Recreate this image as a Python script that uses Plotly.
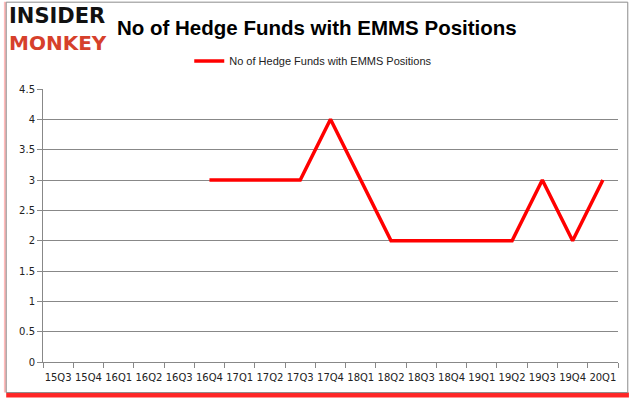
import plotly.graph_objs as go

# Quarter labels and hedge fund counts (None = no data yet)
quarters = ["15Q3", "15Q4", "16Q1", "16Q2", "16Q3", "16Q4", "17Q1", "17Q2", "17Q3", "17Q4",
            "18Q1", "18Q2", "18Q3", "18Q4", "19Q1", "19Q2", "19Q3", "19Q4", "20Q1"]
funds = [None, None, None, None, None, 3, 3, 3, 3, 4,
         3, 2, 2, 2, 2, 2, 3, 2, 3]
seriesName = "No of Hedge Funds with EMMS Positions"
yTicks = [0, 0.5, 1, 1.5, 2, 2.5, 3, 3.5, 4, 4.5]

tickFont = dict(family="DejaVu Sans", size=10, color="#222222")

trace = go.Scatter(
    x=quarters, y=funds, name=seriesName, mode="lines",
    line=dict(color="#ff0000", width=3.5),
    connectgaps=False,
)

layout = go.Layout(
    width=635, height=405,
    margin=dict(l=43, r=17, t=89, b=43),
    paper_bgcolor="white", plot_bgcolor="white",
    showlegend=True,
    legend=dict(
        orientation="h", x=0.47, xanchor="center", y=1.103, yanchor="middle",
        font=dict(family="Liberation Sans", size=11, color="#222222"),
        bgcolor="rgba(0,0,0,0)",
    ),
    xaxis=dict(
        type="category", range=[-0.5, len(quarters) - 0.5], showgrid=False,
        showline=True, linecolor="#888888", linewidth=1,
        ticks="outside", tickson="boundaries", ticklen=5, tickcolor="#888888",
        tickfont=tickFont, tickangle=0, ticklabelstandoff=6,
    ),
    yaxis=dict(
        range=[0, 4.5], tickvals=yTicks,
        showgrid=True, gridcolor="#888888", gridwidth=1,
        showline=True, linecolor="#888888", linewidth=1,
        ticks="outside", ticklen=5, tickcolor="#888888",
        tickfont=tickFont, zeroline=False,
    ),
    shapes=[
        # red shadow under the frame
        dict(type="rect", xref="paper", yref="paper", x0=-0.064, x1=1.019, y0=-0.13, y1=-0.112,
             fillcolor="rgba(255,0,0,0.85)", line=dict(width=0), layer="below"),
        dict(type="rect", xref="paper", yref="paper", x0=-0.068, x1=-0.064, y0=-0.112, y1=1.32,
             fillcolor="rgba(255,120,120,0.5)", line=dict(width=0), layer="below"),
        # gray frame
        dict(type="rect", xref="paper", yref="paper", x0=-0.064, x1=1.017, y0=-0.112, y1=1.318,
             fillcolor="rgba(0,0,0,0)", line=dict(color="#8c8c8c", width=1), layer="below"),
    ],
    annotations=[
        dict(text="<b>No of Hedge Funds with EMMS Positions</b>", xref="paper", yref="paper",
             x=0.476, y=1.227, xanchor="center", yanchor="middle", showarrow=False,
             font=dict(family="Liberation Sans", size=20.5, color="#000000")),
        dict(text="<b>INSIDER</b>", xref="paper", yref="paper",
             x=-0.062, y=1.266, xanchor="left", yanchor="middle", showarrow=False,
             font=dict(family="DejaVu Sans", size=21, color="#111111")),
        dict(text="<b>MONKEY</b>", xref="paper", yref="paper",
             x=-0.062, y=1.17, xanchor="left", yanchor="middle", showarrow=False,
             font=dict(family="DejaVu Sans", size=20, color="#d6402b")),
    ],
)

fig = go.Figure(data=[trace], layout=layout)
# drop the page's default body margin so the chart sits at the window corner
fig.write_html("out.html", config={"displayModeBar": False},
               post_script="document.body.style.margin='0px';")
